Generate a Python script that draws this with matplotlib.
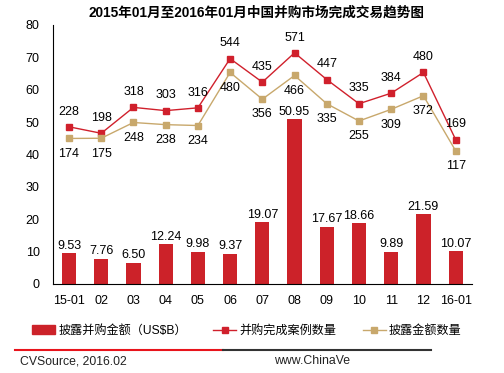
import matplotlib
matplotlib.use('Agg')
import matplotlib.pyplot as plt
from matplotlib.lines import Line2D

plt.rcParams['font.family'] = ['Liberation Sans', 'Noto Sans CJK SC', 'DejaVu Sans']

months = ['15-01', '02', '03', '04', '05', '06', '07', '08', '09', '10', '11', '12', '16-01']
amount = [9.53, 7.76, 6.50, 12.24, 9.98, 9.37, 19.07, 50.95, 17.67, 18.66, 9.89, 21.59, 10.07]
deals = [228, 198, 318, 303, 316, 544, 435, 571, 447, 335, 384, 480, 169]
disclosed = [174, 175, 248, 238, 234, 480, 356, 466, 335, 255, 309, 372, 117]

bar_color = '#CC2229'
red = '#D0202C'
tan = '#C8A86C'

fig = plt.figure(figsize=(5.04, 3.73), dpi=100)
ax = fig.add_axes([0.105, 0.239, 0.831, 0.694])
x = list(range(len(months)))

ax.bar(x, amount, 0.44, color=bar_color, zorder=2)
for i, v in enumerate(amount):
    ax.annotate('%.2f' % v, (i, v), xytext=(0, 1), textcoords='offset points',
                ha='center', va='bottom', fontsize=9)

ax.set_xlim(-0.5, 12.5)
ax.set_ylim(0, 80)
ax.set_yticks(range(0, 81, 10))
ax.set_xticks(x)
ax.set_xticklabels(months)
ax.tick_params(length=0, labelsize=9, pad=8)
ax.tick_params(axis='y', pad=9.5)
for s in ['top', 'right']:
    ax.spines[s].set_visible(False)

ax2 = ax.twinx()
ax2.set_ylim(-500, 700)
ax2.axis('off')
l1, = ax2.plot(x, deals, color=red, lw=1, marker='s', markersize=5, zorder=3)
l2, = ax2.plot(x, disclosed, color=tan, lw=1, marker='s', markersize=5, zorder=3)
for i in x:
    ax2.annotate(str(deals[i]), (i, deals[i]), xytext=(0, 11), textcoords='offset points',
                 ha='center', va='center', fontsize=9)
    ax2.annotate(str(disclosed[i]), (i, disclosed[i]), xytext=(0, -11), textcoords='offset points',
                 ha='center', va='center', fontsize=9)

fig.text(0.508, 0.967, '2015年01月至2016年01月中国并购市场完成交易趋势图',
         ha='center', va='center', fontsize=9.8, fontweight='bold')

h1 = plt.Rectangle((0, 0), 1, 1, color=bar_color)
fig.legend([h1, l1, l2], ['披露并购金额（US$B）', '并购完成案例数量', '披露金额数量'],
           loc='center', bbox_to_anchor=(0.49, 0.113), ncol=3, frameon=False,
           fontsize=8.7, handlelength=1.9, handletextpad=0.25, columnspacing=2.2)

fig.add_artist(Line2D([0.03, 0.442], [0.0617, 0.0617], color='#E8141C', lw=1.5))
fig.add_artist(Line2D([0.442, 0.855], [0.0617, 0.0617], color='#333333', lw=1.5))
fig.text(0.04, 0.032, 'CVSource, 2016.02', ha='left', va='center', fontsize=8.8, color='#222222')
fig.text(0.544, 0.032, 'www.ChinaVe', ha='left', va='center', fontsize=8.8, color='#222222')

fig.savefig('out.png', dpi=100)
